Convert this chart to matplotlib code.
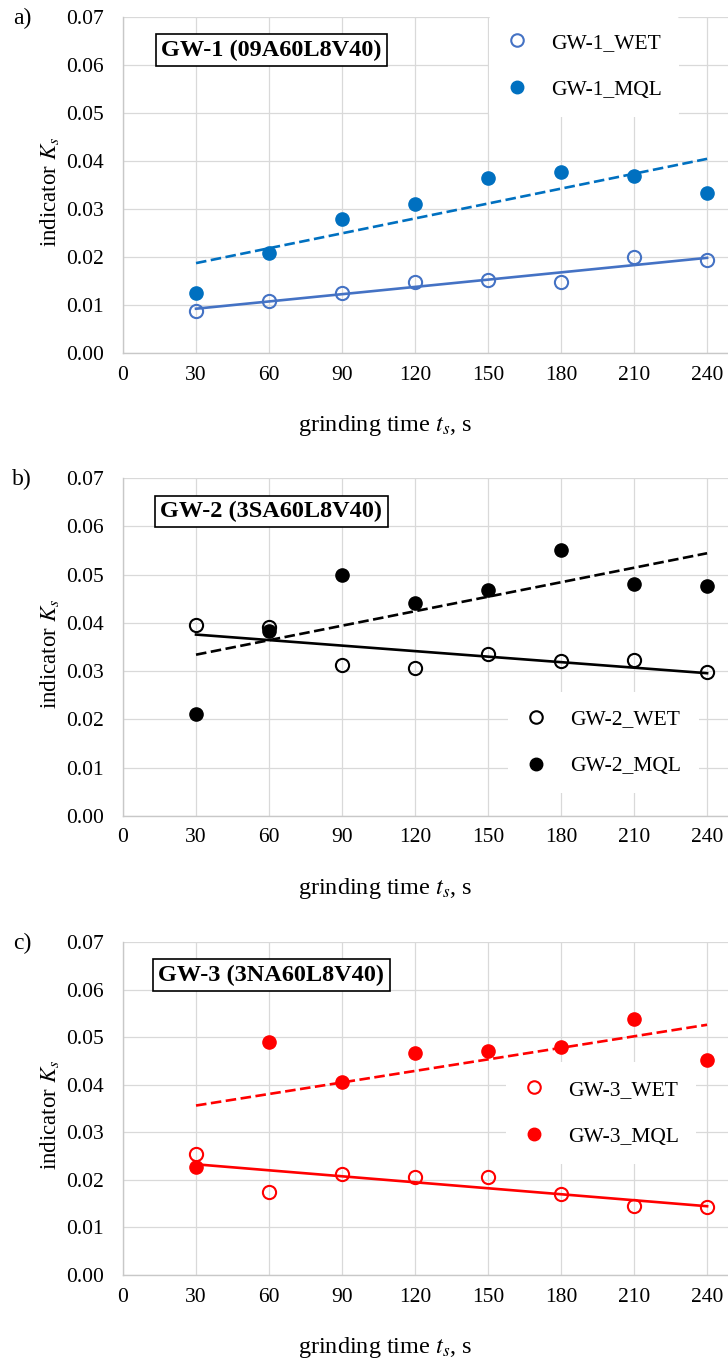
import numpy as np
import matplotlib
matplotlib.use("Agg")
import matplotlib.pyplot as plt
from matplotlib.lines import Line2D

plt.rcParams["font.family"] = ["Liberation Serif", "DejaVu Serif"]
plt.rcParams["mathtext.fontset"] = "stix"

# grinding time, s
times = [30, 60, 90, 120, 150, 180, 210, 240]

# indicator Ks
gw1_wet = [0.0088, 0.0108, 0.0124, 0.0148, 0.0153, 0.0148, 0.0200, 0.0193]
gw1_mql = [0.0125, 0.0208, 0.0279, 0.0311, 0.0365, 0.0378, 0.0368, 0.0333]
gw2_wet = [0.0395, 0.0392, 0.0312, 0.0307, 0.0336, 0.0322, 0.0324, 0.0298]
gw2_mql = [0.0211, 0.0384, 0.0500, 0.0442, 0.0468, 0.0551, 0.0480, 0.0477]
gw3_wet = [0.0254, 0.0174, 0.0212, 0.0207, 0.0205, 0.0170, 0.0145, 0.0142]
gw3_mql = [0.0228, 0.0490, 0.0405, 0.0466, 0.0470, 0.0480, 0.0538, 0.0452]

panels = [
    ("a)", "GW-1 (09A60L8V40)", "GW-1", gw1_wet, gw1_mql, "#4472C4", "#0070C0", (0.762, 0.853)),
    ("b)", "GW-2 (3SA60L8V40)", "GW-2", gw2_wet, gw2_mql, "black", "black", (0.794, 0.217)),
    ("c)", "GW-3 (3NA60L8V40)", "GW-3", gw3_wet, gw3_mql, "#FF0000", "#FF0000", (0.790, 0.486)),
]

W, H = 728, 1360
fig = plt.figure(figsize=(W / 100, H / 100), dpi=100)

# axes boxes in pixels: (top, bottom)
boxes = [(17, 353), (478, 816), (942, 1275)]
left_px = 123

t = np.array(times, dtype=float)
for (lab, title, name, wet, mql, c_wet, c_mql, leg_xy), (top, bot) in zip(panels, boxes):
    ax = fig.add_axes([left_px / W, 1 - bot / H, (W - left_px) / W, (bot - top) / H])
    ax.set_xlim(0, 248.6)
    ax.set_ylim(0, 0.07)
    ax.set_xticks(range(0, 241, 30))
    ax.set_yticks(np.arange(0, 0.0701, 0.01))
    ax.set_yticklabels([f"{v:.2f}" for v in np.arange(0, 0.0701, 0.01)])
    ax.grid(True, color="#D9D9D9", lw=0.9)
    ax.set_axisbelow(True)
    for s in ["top", "right"]:
        ax.spines[s].set_visible(False)
    for s in ["left", "bottom"]:
        ax.spines[s].set_color("#C8C8C8")
        ax.spines[s].set_linewidth(1.0)
    ax.tick_params(length=0, labelsize=15.5)
    ax.tick_params(axis="y", pad=14)
    ax.tick_params(axis="x", pad=9)

    # linear trendlines
    w = np.polyfit(t, wet, 1)
    m = np.polyfit(t, mql, 1)
    ax.plot(t, np.polyval(w, t), color=c_wet, lw=1.9, zorder=4)
    ax.plot(t, np.polyval(m, t), color=c_mql, lw=1.9, dashes=(4, 1.7), zorder=4)

    ax.plot(t, wet, "o", ms=9.5, mfc="none", mec=c_wet, mew=1.5, zorder=3, clip_on=False)
    ax.plot(t, mql, "o", ms=9.5, mfc=c_mql, mec=c_mql, zorder=3, clip_on=False)

    handles = [
        Line2D([], [], ls="none", marker="o", ms=9, mfc="none", mec=c_wet, mew=1.5),
        Line2D([], [], ls="none", marker="o", ms=9, mfc=c_mql, mec=c_mql),
    ]
    leg = ax.legend(handles, [f"{name}_WET", f"{name}_MQL"], loc="center",
                    bbox_to_anchor=leg_xy, fontsize=15.5, frameon=True,
                    facecolor="white", edgecolor="none", framealpha=1,
                    handlelength=1.0, handletextpad=1.1, labelspacing=1.25,
                    borderpad=0.8, borderaxespad=0)
    leg.set_zorder(5)

    ax.text(0.245, 0.901, title, transform=ax.transAxes, ha="center", va="center",
            fontsize=17.5, fontweight="bold", zorder=6,
            bbox=dict(boxstyle="square,pad=0.22", fc="white", ec="black", lw=1.2))

    ax.set_ylabel(r"indicator $K_s$", fontsize=16.5)
    ax.yaxis.set_label_coords(-0.102, 0.48)
    ax.set_xlabel(r"grinding time $t_s$, s", fontsize=17.5)
    ax.xaxis.set_label_coords(0.433, -0.18 * 336 / (bot - top))

    fig.text(22 / W, 1 - (top + 1) / H, lab, ha="center", va="center", fontsize=17)

fig.savefig("out.png", dpi=100)
